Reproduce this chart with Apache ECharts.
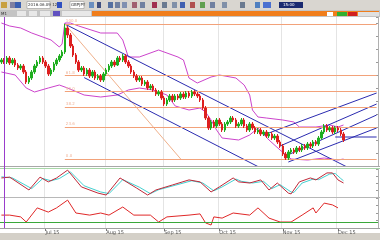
<!DOCTYPE html>
<html><head><meta charset="utf-8">
<script src="https://cdn.jsdelivr.net/npm/echarts@6/dist/echarts.min.js"></script>
<style>html,body{margin:0;padding:0;background:#fff}#c{width:380px;height:240px}</style>
</head><body><div id="c"></div>
<script>
// ---- price data (daily candles) ----
const opens=[
156.0,156.5,156.0,157.0,155.75,156.5,155.25,154.5,155.0,153.5,
151.0,152.0,153.5,155.0,156.0,157.0,156.0,155.0,153.0,154.0,
155.5,156.5,157.5,158.5,164.5,162.75,160.0,157.75,156.0,154.0,
154.5,153.0,154.0,152.5,153.5,152.0,152.5,151.5,153.0,154.0,
155.0,156.0,155.25,157.0,156.5,157.5,156.0,155.0,153.5,152.5,
151.5,152.0,150.5,151.0,149.5,150.0,149.0,148.0,148.5,147.0,
145.5,146.5,147.5,146.5,147.5,147.0,148.0,147.25,148.25,147.5,
148.5,148.0,147.5,146.5,144.5,142.0,139.5,141.0,140.0,141.5,
140.5,139.0,140.5,141.0,142.0,141.5,140.0,140.5,141.5,140.0,
139.0,140.5,139.5,138.5,139.0,138.0,138.5,137.5,138.0,137.0,
137.5,136.0,135.0,133.0,132.0,133.5,134.0,133.5,134.5,134.0,
135.0,134.5,135.5,135.0,136.0,135.5,137.0,138.5,140.0,139.0,
139.5,138.5,139.5,139.0,138.0];
const closes=[
156.5,156.0,157.0,155.75,156.5,155.25,154.5,155.0,153.5,151.0,
152.0,153.5,155.0,156.0,157.0,156.0,155.0,153.0,154.0,155.5,
156.5,157.5,158.5,164.5,162.75,160.0,157.75,156.0,154.0,154.5,
153.0,154.0,152.5,153.5,152.0,152.5,151.5,153.0,154.0,155.0,
156.0,155.25,157.0,156.5,157.5,156.0,155.0,153.5,152.5,151.5,
152.0,150.5,151.0,149.5,150.0,149.0,148.0,148.5,147.0,145.5,
146.5,147.5,146.5,147.5,147.0,148.0,147.25,148.25,147.5,148.5,
148.0,147.5,146.5,144.5,142.0,139.5,141.0,140.0,141.5,140.5,
139.0,140.5,141.0,142.0,141.5,140.0,140.5,141.5,140.0,139.0,
140.5,139.5,138.5,139.0,138.0,138.5,137.5,138.0,137.0,137.5,
136.0,135.0,133.0,132.0,133.5,134.0,133.5,134.5,134.0,135.0,
134.5,135.5,135.0,136.0,135.5,137.0,138.5,140.0,139.0,139.5,
138.5,139.5,139.0,138.0,136.5];
const highs=[
157.0,157.0,157.5,157.5,157.0,157.0,155.75,155.5,155.5,154.0,
152.5,154.0,155.5,156.5,157.5,157.5,156.5,155.5,154.5,156.0,
157.0,158.0,159.0,165.5,165.0,163.25,160.5,158.25,156.5,155.0,
155.0,154.5,154.5,154.0,154.0,153.0,153.0,153.5,154.5,155.5,
156.5,156.5,157.5,157.5,158.0,158.0,156.5,155.5,154.0,153.0,
152.5,152.5,151.5,151.5,150.5,150.5,149.5,149.0,149.0,147.5,
147.0,148.0,148.0,148.0,148.0,148.5,148.5,148.75,148.75,149.0,
149.0,148.5,148.0,147.0,145.0,142.5,141.5,141.5,142.0,142.0,
141.0,141.0,141.5,142.5,142.5,142.0,141.0,142.0,142.0,140.5,
141.0,141.0,140.0,139.5,139.5,139.0,139.0,138.5,138.5,138.0,
138.0,136.5,135.5,133.5,134.0,134.5,134.5,135.0,135.0,135.5,
135.5,136.0,136.0,136.5,136.5,137.5,139.0,140.5,140.5,140.0,
140.0,140.0,140.0,139.5,138.5];
const lows=[
155.5,155.5,155.5,155.25,155.25,154.75,154.0,154.0,153.0,150.5,
150.5,151.5,153.0,154.5,155.5,155.5,154.5,152.5,152.5,153.5,
155.0,156.0,157.0,158.0,162.0,159.5,157.25,155.5,153.5,153.5,
152.5,152.5,152.0,152.0,151.5,151.5,151.0,151.0,152.5,153.5,
154.5,154.75,155.0,156.0,156.0,155.5,154.5,153.0,152.0,151.0,
151.0,150.0,150.0,149.0,149.0,148.5,147.5,147.5,146.5,145.0,
145.0,146.0,146.0,146.0,146.5,146.5,146.75,146.75,147.0,147.0,
147.5,147.0,146.0,144.0,141.5,139.0,139.0,139.5,139.5,140.0,
138.5,138.5,140.0,140.5,141.0,139.5,139.5,140.0,139.5,138.5,
138.5,139.0,138.0,138.0,137.5,137.5,137.0,137.0,136.5,136.5,
135.5,134.5,132.5,131.5,131.5,133.0,133.0,133.0,133.5,133.5,
134.0,134.0,134.5,134.5,135.0,135.0,136.5,138.0,138.5,138.5,
138.0,138.0,138.5,137.5,136.0];

// Bollinger bands: [slot index, price]
const bbUpper=[[0,165.75],[3,165.0],[7,164.5],[11,163.25],[18,161.5],[21,159.75],[22,160.5],[23,165.75],[25,165.75],[28,165.0],[36,163.25],[42,163.25],[44,161.5],[46,157.25],[50,157.25],[57,159.0],[64,157.25],[66,156.5],[68,152.0],[71,150.75],[76,152.25],[79,152.75],[85,152.0],[88,150.25],[90,147.75],[91,144.0],[93,142.25],[96,142.0],[102,141.5],[106,141.0],[108,139.75],[114,139.75],[119,140.25],[122,139.75],[124,140.25]];
const bbLower=[[0,153.5],[5,152.75],[9,149.5],[12,148.5],[17,149.5],[21,150.25],[24,149.5],[30,147.75],[36,147.25],[42,147.75],[46,149.0],[50,149.5],[55,149.0],[60,147.75],[63,145.0],[68,144.0],[72,144.5],[74,143.5],[76,141.5],[78,139.0],[80,137.0],[86,136.5],[90,137.75],[93,139.5],[97,136.5],[101,134.0],[105,131.75],[111,131.5],[117,132.0],[122,131.5],[124,131.75]];

// Fibonacci retracement
const fibHigh=165.5, fibLow=131.75, fibStart=23, fibEnd=136;
const fibLevels=[0,0.236,0.382,0.5,0.618,1];
const fibText=['0.0','23.6','38.2','50.0','61.8','100.0'];

// trend lines drawn on the chart: [[slot, price],[slot, price]]
const downLines=[
  [[23,165.5],[126,129.5]],
  [[30,152.1],[94,129.5]]
];
const upLines=[
  [[95,137.75],[136,148.25]],
  [[101,135.0],[136,145.5]],
  [[103,132.5],[136,142.75]],
  [[104,131.0],[136,139.5]]
];
const flatLine=[[121,137.25],[136,137.25]];
const fibDiag=[[23,165.5],[65,131.75]];

// oscillators: [slot, value]
const stochK=[[0,68],[3,71],[10,25],[14,71],[17,54],[20,68],[24,96],[29,36],[35,14],[38,7],[43,68],[49,32],[53,7],[56,25],[62,43],[68,61],[72,54],[76,18],[79,36],[84,68],[86,54],[90,50],[94,61],[97,25],[100,50],[104,14],[105,11],[108,54],[112,68],[114,61],[118,86],[120,86],[122,61],[124,50]];
const stochD=[[0,72],[4,68],[11,30],[15,66],[18,58],[21,66],[25,90],[30,40],[36,18],[39,12],[44,62],[50,35],[54,12],[57,26],[63,42],[69,58],[73,50],[77,22],[80,36],[85,64],[87,56],[91,50],[95,56],[98,30],[101,44],[105,18],[106,16],[109,50],[113,64],[115,62],[119,82],[121,84],[123,66],[124,58]];
const osc2=[[0,43],[3,43],[7,37],[9,20],[13,67],[17,53],[20,67],[24,93],[27,50],[32,43],[36,50],[39,43],[44,70],[48,43],[54,43],[57,20],[60,37],[68,43],[72,47],[74,17],[76,10],[77,37],[80,33],[84,50],[90,43],[93,67],[97,33],[101,20],[105,20],[109,43],[113,67],[114,50],[117,83],[120,77],[122,67]];
const osc2Level=20;

// x axis
const slotCount=137;
const tickIdx=[16,38,59,79,102,122];
const tickText=['Jul 15','Aug 15','Sep 15','Oct 15','Nov 15','Dec 15'];

const cats=Array.from({length:slotCount},(_,i)=>String(i));
const candles=opens.map((o,i)=>[o,closes[i],lows[i],highs[i]]);

const BLUE='#2b2bb0', FIB='#f2a27a', BB='#cc44cc';
function seg(d,color,w){return {type:'line',xAxisIndex:0,yAxisIndex:0,data:d,symbol:'none',silent:true,
  lineStyle:{color:color,width:w||1},clip:true,z:4,animation:false};}

const series=[
 {type:'candlestick',xAxisIndex:0,yAxisIndex:0,data:candles,barWidth:2,z:5,
  itemStyle:{color:'#1fae1f',color0:'#dd2020',borderColor:'#1fae1f',borderColor0:'#dd2020',borderWidth:1}},
 {type:'line',xAxisIndex:0,yAxisIndex:0,data:bbUpper,symbol:'none',lineStyle:{color:BB,width:1},z:3},
 {type:'line',xAxisIndex:0,yAxisIndex:0,data:bbLower,symbol:'none',lineStyle:{color:BB,width:1},z:3},
 {type:'line',xAxisIndex:0,yAxisIndex:0,data:[],z:2,
  markLine:{silent:true,symbol:'none',animation:false,
   lineStyle:{color:FIB,width:1,type:'solid'},
   label:{show:true,position:'insideStartTop',fontSize:4,color:'#f0b49a',distance:1,fontFamily:'DejaVu Sans'},
   data:fibLevels.map((r,k)=>{const v=fibLow+r*(fibHigh-fibLow);
     return [{coord:[fibStart,v],name:fibText[k],label:{formatter:fibText[k]}},{coord:[fibEnd,v]}];})}},
 seg(fibDiag,'#f0b08a',1)
];
downLines.forEach(d=>series.push(seg(d,BLUE,1)));
upLines.forEach(d=>series.push(seg(d,BLUE,1)));
series.push(seg(flatLine,BLUE,1));
series.push({type:'line',xAxisIndex:1,yAxisIndex:1,data:stochD,symbol:'none',lineStyle:{color:'#44d0d0',width:1},z:3});
series.push({type:'line',xAxisIndex:1,yAxisIndex:1,data:stochK,symbol:'none',lineStyle:{color:'#c02838',width:1},z:4});
series.push({type:'line',xAxisIndex:2,yAxisIndex:2,data:osc2,symbol:'none',lineStyle:{color:'#e02828',width:1},z:4,
  markLine:{silent:true,symbol:'none',label:{show:false},lineStyle:{color:'#3aa83a',width:1,type:'solid'},data:[{yAxis:osc2Level}]}});

function xAx(g,showLabels){return {type:'category',gridIndex:g,data:cats,boundaryGap:true,
  axisLine:{show:false},
  axisTick:{show:showLabels,alignWithLabel:true,length:3,lineStyle:{color:'#777'},interval:(i)=>tickIdx.includes(i)},
  axisLabel:{show:showLabels,interval:(i)=>tickIdx.includes(i),align:'left',fontSize:5,color:'#555',margin:2,
    fontFamily:'DejaVu Sans',formatter:(v,i)=>tickText[tickIdx.indexOf(Number(v))]},
  splitLine:{show:true,interval:(i)=>tickIdx.includes(i),lineStyle:{color:'#e4e4e4',width:1}}};}
function yAx(g,min,max,interval){return {type:'value',gridIndex:g,min:min,max:max,interval:interval,position:'right',
  axisLine:{show:true,lineStyle:{color:'#b0b0b0'}},axisTick:{show:true,inside:true,length:2,lineStyle:{color:'#999'}},
  axisLabel:{show:false},splitLine:{show:false}};}

const graphic=[
 {type:'rect',shape:{x:0,y:0,width:380,height:10},style:{fill:'#d9d6d0'},z:0},
 {type:'rect',shape:{x:0,y:10,width:380,height:7},style:{fill:'#c4c4c4'},z:0},
 {type:'rect',shape:{x:92,y:11,width:287,height:5},style:{fill:'#f07e1c'},z:1},
 {type:'rect',shape:{x:0,y:233,width:380,height:7},style:{fill:'#d4d0c8'},z:0},
 {type:'line',shape:{x1:0,y1:166.5,x2:380,y2:166.5},style:{stroke:'#a8a8a8',lineWidth:1},z:6},
 {type:'line',shape:{x1:0,y1:168.5,x2:380,y2:168.5},style:{stroke:'#a8d8a8',lineWidth:1},z:6},
 {type:'line',shape:{x1:0,y1:197.5,x2:380,y2:197.5},style:{stroke:'#b8b8b8',lineWidth:1},z:6},
 {type:'line',shape:{x1:0,y1:228.5,x2:380,y2:228.5},style:{stroke:'#a0a0a0',lineWidth:1},z:6},
 {type:'line',shape:{x1:4.5,y1:17,x2:4.5,y2:228},style:{stroke:'#9a3ccc',lineWidth:1},z:7},
 // toolbar icons
 {type:'rect',shape:{x:1,y:2,width:6,height:6},style:{fill:'#c8a040'},z:2},
 {type:'rect',shape:{x:10,y:2,width:5,height:6},style:{fill:'#8080a0'},z:2},
 {type:'rect',shape:{x:15,y:2,width:6,height:6},style:{fill:'#3a5fb0'},z:2},
 {type:'rect',shape:{x:27,y:1.5,width:23,height:7},style:{fill:'#ffffff',stroke:'#888',lineWidth:0.5},z:2},
 {type:'text',style:{x:28,y:2.5,text:'2016.06.09 12',fontSize:4,fill:'#333',fontFamily:'DejaVu Sans'},z:3},
 {type:'rect',shape:{x:57,y:2,width:5,height:6},style:{fill:'#3050c0'},z:2},
 {type:'rect',shape:{x:70,y:1.5,width:14,height:7},style:{fill:'#ffffff',stroke:'#888',lineWidth:0.5},z:2},
 {type:'text',style:{x:71,y:2.5,text:'GBPJPY',fontSize:4,fill:'#333',fontFamily:'DejaVu Sans'},z:3},
 {type:'rect',shape:{x:89,y:2,width:5,height:6},style:{fill:'#6a8fc0'},z:2},
 {type:'rect',shape:{x:97,y:2,width:4,height:6},style:{fill:'#405080'},z:2},
 {type:'rect',shape:{x:108,y:2,width:5,height:6},style:{fill:'#5570a0'},z:2},
 {type:'rect',shape:{x:115,y:2,width:5,height:6},style:{fill:'#7080a0'},z:2},
 {type:'rect',shape:{x:122,y:2,width:5,height:6},style:{fill:'#8090b0'},z:2},
 {type:'rect',shape:{x:132,y:2,width:5,height:6},style:{fill:'#a06070'},z:2},
 {type:'rect',shape:{x:140,y:2,width:5,height:6},style:{fill:'#7080a0'},z:2},
 {type:'rect',shape:{x:152,y:2,width:5,height:6},style:{fill:'#a03050'},z:2},
 {type:'rect',shape:{x:162,y:2,width:5,height:6},style:{fill:'#6a7a90'},z:2},
 {type:'rect',shape:{x:172,y:2,width:5,height:6},style:{fill:'#8090a8'},z:2},
 {type:'rect',shape:{x:180,y:2,width:5,height:6},style:{fill:'#4060b0'},z:2},
 {type:'rect',shape:{x:190,y:2,width:5,height:6},style:{fill:'#b05050'},z:2},
 {type:'rect',shape:{x:200,y:2,width:5,height:6},style:{fill:'#60a050'},z:2},
 {type:'rect',shape:{x:210,y:2,width:5,height:6},style:{fill:'#7080a0'},z:2},
 {type:'rect',shape:{x:222,y:2,width:5,height:6},style:{fill:'#8090a8'},z:2},
 {type:'rect',shape:{x:240,y:2,width:5,height:6},style:{fill:'#6a7a90'},z:2},
 {type:'rect',shape:{x:255,y:2,width:5,height:6},style:{fill:'#5080c0'},z:2},
 {type:'rect',shape:{x:263,y:2,width:8,height:6},style:{fill:'#4a70d0'},z:2},
 {type:'rect',shape:{x:279,y:2,width:24,height:6},style:{fill:'#1a2a70'},z:2},
 {type:'text',style:{x:283,y:3,text:'15:00',fontSize:4,fill:'#fff',fontFamily:'DejaVu Sans'},z:3},
 // tab row
 {type:'text',style:{x:1,y:11.5,text:'M1',fontSize:4,fill:'#333',fontFamily:'DejaVu Sans'},z:3},
 {type:'rect',shape:{x:17,y:11,width:9,height:5},style:{fill:'#e8e8e8'},z:2},
 {type:'rect',shape:{x:29,y:11,width:8,height:5},style:{fill:'#e8e8e8'},z:2},
 {type:'rect',shape:{x:40,y:11,width:10,height:5},style:{fill:'#e8e8e8'},z:2},
 {type:'rect',shape:{x:53,y:11,width:7,height:5},style:{fill:'#6050c0'},z:2},
 {type:'rect',shape:{x:62,y:11,width:29,height:5},style:{fill:'#e8e8e8'},z:2},
 {type:'rect',shape:{x:327,y:12,width:6,height:4},style:{fill:'#ffffff'},z:2},
 {type:'rect',shape:{x:337,y:12,width:10,height:4},style:{fill:'#30b030'},z:2},
 {type:'rect',shape:{x:348,y:12,width:9,height:4},style:{fill:'#d02020'},z:2},
 {type:'rect',shape:{x:358,y:12,width:21,height:4},style:{fill:'#e0e0e0'},z:2}
];

const option={
 animation:false,backgroundColor:'#ffffff',
 grid:[{left:0,right:2,top:17,height:149},{left:0,right:2,top:169,height:28},{left:0,right:2,top:198,height:30}],
 xAxis:[xAx(0,false),xAx(1,false),xAx(2,true)],
 yAxis:[yAx(0,130,167.25,3.25),yAx(1,0,100,25),yAx(2,0,100,25)],
 series:series,
 graphic:graphic
};
const chart=echarts.init(document.getElementById('c'));
chart.setOption(option);
</script></body></html>
